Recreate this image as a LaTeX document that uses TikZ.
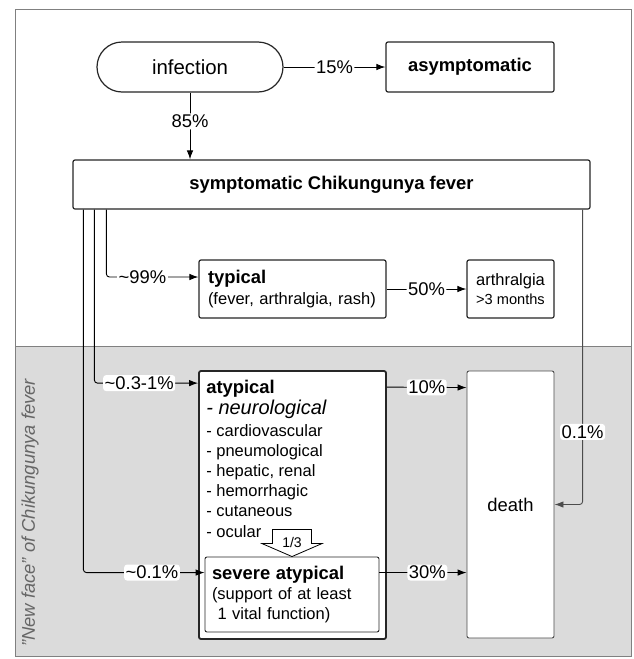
\documentclass[tikz,border=0pt]{standalone}
\usepackage{fontspec}
\setmainfont{Liberation Sans}
\usetikzlibrary{arrows.meta}

\begin{document}
\begin{tikzpicture}[x = 1pt, y = -1pt,
	>={Latex[length = 9pt, width = 6.5pt]},
	box/.style = {draw = black!85, line width = 1.2pt, fill = white, rounded corners = 2pt},
	big/.style = {font = \bfseries\fontsize{18.4}{22}\selectfont},
	small/.style = {font = \fontsize{16.5}{20.2}\selectfont},
	pct/.style = {fill = white, inner sep = 1.5pt, font = \fontsize{18.4}{22}\selectfont},
	link/.style = {->, line width = 0.9pt, rounded corners = 3pt}]
\useasboundingbox (0, 0) rectangle (633, 659);
\fill[black!14] (15, 346) rectangle (631, 656);
\draw[black!50, line width = 0.8pt] (15, 9) rectangle (631, 656);
\draw[black!50, line width = 0.8pt] (15, 346) -- (631, 346);
\node[rotate = 90, text = black!60, font = \itshape\fontsize{18.4}{22}\selectfont] (newface) at (30, 513) {"New face" of Chikungunya fever};

\node[box, rounded corners = 25pt, minimum width = 186pt, minimum height = 50pt, font = \fontsize{20.4}{24}\selectfont] (infect) at (190, 67) {infection};
\node[box, big, minimum width = 168pt, minimum height = 50pt] (asym) at (470, 67) {asymptomatic};
\node[box, big, minimum width = 517pt, minimum height = 49pt] (sympt) at (331.5, 184.5) {symptomatic Chikungunya fever};
\node[box, small, minimum height = 58pt, inner xsep = 9pt, text width = 169pt, align = left] (typical) at (292.5, 289)
	{{\bfseries\fontsize{18.4}{21}\selectfont typical}\\(fever, arthralgia, rash)};
\node[box, small, minimum width = 87pt, minimum height = 58pt, inner sep = 0pt, align = center] (arthr) at (510.5, 289)
	{arthralgia\\[-2pt]{\fontsize{14.6}{17}\selectfont >3 months}};

\node[box, line width = 1.8pt, minimum width = 187pt, minimum height = 268pt] (atyp) at (292.5, 505) {};
\node[small, anchor = north west, align = left, inner sep = 0pt] (atyplist) at ([xshift = 8pt, yshift = -10pt]atyp.north west)
	{{\bfseries\fontsize{18.4}{22}\selectfont atypical}\\[1pt]
	{\itshape\fontsize{20}{22}\selectfont - neurological}\\[1pt]
	- cardiovascular\\
	- pneumological\\
	- hepatic, renal\\
	- hemorrhagic\\
	- cutaneous\\
	- ocular};
\node[box, small, line width = 0.9pt, minimum height = 75pt, inner xsep = 7pt, text width = 160pt, align = left] (severe) at (292, 594.5)
	{{\bfseries\fontsize{18.4}{21}\selectfont severe atypical}\\(support of at least\\\ 1 vital function)};
\node[box, draw = black!70, line width = 0.9pt, minimum width = 87pt, minimum height = 267pt, font = \fontsize{18.4}{22}\selectfont] (death) at (510.5, 504.5) {death};

\coordinate (tip) at (severe.north);
\draw[fill = white, line width = 0.8pt] (tip) -- ++(-30, -13) -- ++(10.5, 0) -- ++(0, -14) -- ++(39, 0) -- ++(0, 14) -- ++(10.5, 0) -- cycle;
\node[font = \fontsize{14}{16}\selectfont, inner sep = 0pt] (third) at ([yshift = 14pt]tip) {1/3};

\draw[link] (infect) -- node[pct] {15\%} (asym);
\draw[link] (infect.south) -- node[pct, pos = 0.43] {85\%} (infect.south |- sympt.north);
\draw[link] ([xshift = 34pt]sympt.south west) |- node[pct, pos = 0.696] {\textasciitilde 99\%} ([yshift = 12pt]typical.west);
\draw[link] ([xshift = 22pt]sympt.south west) |- node[pct, pos = 0.716] {\textasciitilde 0.3-1\%} ([yshift = -13pt]atyp.north west);
\draw[link] ([xshift = 11pt]sympt.south west) |- node[pct, pos = 0.783] {\textasciitilde 0.1\%} ([yshift = -16pt]severe.north west);
\draw[link] (typical) -- node[pct] {50\%} (arthr);
\draw[link] ([yshift = -17pt]atyp.north east) -- node[pct] {10\%} ([yshift = -17pt]death.north west);
\coordinate (thirty) at ([yshift = -16pt]severe.north east);
\draw[link] (thirty) -- node[pct, pos = 0.55] {30\%} (thirty -| death.west);
\draw[link, draw = black!70] ([xshift = -8pt]sympt.south east) |- node[pct, pos = 0.377] {0.1\%} (death.east);
\end{tikzpicture}
\end{document}
